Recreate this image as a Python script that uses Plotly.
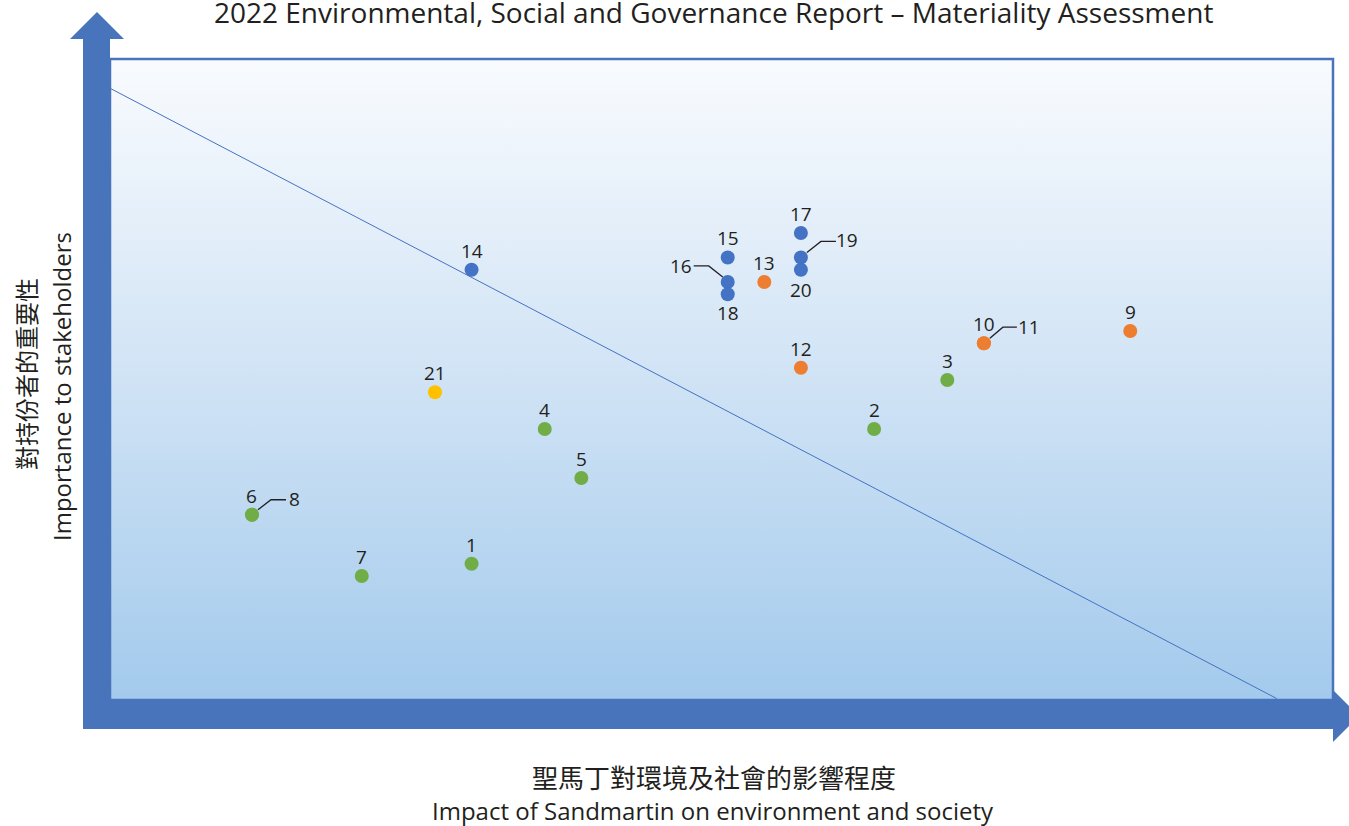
import plotly.graph_objects as go

# ---------------- data ----------------
issue_ids = ["1", "2", "3", "4", "5", "6", "7", "8", "9", "10", "11",
             "12", "13", "14", "15", "16", "17", "18", "19", "20", "21"]
impact = [10, 21, 23, 12, 13, 4, 7, 4, 28, 24, 24,
          19, 18, 10, 17, 17, 19, 17, 19, 19, 9]
importance = [11, 22, 26, 22, 18, 15, 10, 15, 30, 29, 29,
              27, 34, 35, 36, 34, 38, 33, 36, 35, 25]
category = ["env", "env", "env", "env", "env", "env", "env", "env", "emp", "emp", "emp",
            "emp", "emp", "gov", "gov", "gov", "gov", "gov", "gov", "gov", "com"]
threshold_x = [0, 32]
threshold_y = [50, 0]

title_text = "2022 Environmental, Social and Governance Report \u2013 Materiality Assessment"
x_title_zh = "聖馬丁對環境及社會的影響程度"
x_title_en = "Impact of Sandmartin on environment and society"
y_title_zh = "對持份者的重要性"
y_title_en = "Importance to stakeholders"

# ---------------- styles ----------------
colors = {"env": "#70ad47", "emp": "#ed7d31", "gov": "#4472c4", "com": "#ffc000"}
ARROW = "#4874bb"
TXT = "#231f20"
FONT = "Open Sans, Noto Sans, sans-serif"
CJK = "Noto Sans CJK TC, Noto Sans CJK SC, sans-serif"

W, H = 1349, 826
L, R, T, B = 110, 1333, 59, 700  # plot area in px
X_RANGE = [0.12, 33.54]
Y_RANGE = [-0.122, 52.2]

# label placements: (xshift, yshift) in px, plus optional leader path (px offsets from point)
label_pos = {i: (0, 19) for i in issue_ids}
label_pos["18"] = (0, -19)
label_pos["20"] = (0, -20)
label_pos["16"] = (-47, 16)
label_pos["19"] = (46, 17)
label_pos["8"] = (43, 16)
label_pos["11"] = (45, 16)
leaders = {
    "16": "M -5,5 L -19,16 L -34,16",
    "19": "M 6,5 L 20,16 L 35,16",
    "8": "M 6,5 L 19,15 L 34,15",
    "11": "M 6,5 L 19,16 L 33,16",
}


def px(x):
    return (x - L) / (R - L)


def py(y):
    return (B - y) / (B - T)


fig = go.Figure()

# gradient background
fig.add_trace(go.Scatter(
    x=[X_RANGE[0], X_RANGE[1], X_RANGE[1], X_RANGE[0], X_RANGE[0]],
    y=[Y_RANGE[0], Y_RANGE[0], Y_RANGE[1], Y_RANGE[1], Y_RANGE[0]],
    mode="lines", line=dict(width=0), fill="toself",
    fillgradient=dict(type="vertical", start=Y_RANGE[0], stop=Y_RANGE[1],
                      colorscale=[[0, "#a3caec"], [0.5, "#d0e3f5"], [1, "#f9fbfe"]]),
    hoverinfo="skip", showlegend=False))

# threshold line
fig.add_trace(go.Scatter(x=threshold_x, y=threshold_y, mode="lines",
                         line=dict(color="#4472c4", width=1),
                         hoverinfo="skip", showlegend=False))

# points
fig.add_trace(go.Scatter(
    x=impact, y=importance, mode="markers",
    marker=dict(size=14, color=[colors[c] for c in category], line=dict(width=0)),
    text=issue_ids, hoverinfo="text", showlegend=False))

annotations = []
shapes = []
for i, xv, yv in zip(issue_ids, impact, importance):
    dx, dy = label_pos[i]
    annotations.append(dict(x=xv, y=yv, xref="x", yref="y", text=i, showarrow=False,
                            xshift=dx, yshift=dy, font=dict(family=FONT, size=19, color=TXT)))
    if i in leaders:
        shapes.append(dict(type="path", xref="x", yref="y", xsizemode="pixel", ysizemode="pixel",
                           xanchor=xv, yanchor=yv, path=leaders[i],
                           line=dict(color=TXT, width=1.3), layer="above"))

# plot border
shapes.append(dict(type="rect", xref="paper", yref="paper", x0=0, x1=1, y0=0, y1=1,
                   line=dict(color="#4874bb", width=2.5), layer="above"))

# vertical arrow
shapes.append(dict(type="path", xref="paper", yref="paper", layer="above",
                   path=f"M {px(83)},{py(729)} L {px(110)},{py(729)} L {px(110)},{py(39)} "
                        f"L {px(124)},{py(39)} L {px(97)},{py(12)} L {px(70)},{py(39)} "
                        f"L {px(83)},{py(39)} Z",
                   fillcolor=ARROW, line=dict(width=0)))
# horizontal arrow
shapes.append(dict(type="path", xref="paper", yref="paper", layer="above",
                   path=f"M {px(83)},{py(700)} L {px(1333)},{py(700)} L {px(1333)},{py(690)} "
                        f"L {px(1359)},{py(716)} L {px(1333)},{py(742)} L {px(1333)},{py(729)} "
                        f"L {px(83)},{py(729)} Z",
                   fillcolor=ARROW, line=dict(width=0)))

# titles
annotations += [
    dict(x=px(713), y=py(12), xref="paper", yref="paper", text=title_text, showarrow=False,
         xanchor="center", yanchor="middle", font=dict(family=FONT, size=28, color=TXT)),
    dict(x=px(714), y=py(776), xref="paper", yref="paper", text=x_title_zh, showarrow=False,
         xanchor="center", yanchor="middle", font=dict(family=CJK, size=26, color=TXT)),
    dict(x=px(713), y=py(810), xref="paper", yref="paper", text=x_title_en, showarrow=False,
         xanchor="center", yanchor="middle", font=dict(family=FONT, size=24, color=TXT)),
    dict(x=px(25), y=py(374), xref="paper", yref="paper", text=y_title_zh, showarrow=False,
         textangle=-90, xanchor="center", yanchor="middle", font=dict(family=CJK, size=24, color=TXT)),
    dict(x=px(61), y=py(387), xref="paper", yref="paper", text=y_title_en, showarrow=False,
         textangle=-90, xanchor="center", yanchor="middle", font=dict(family=FONT, size=24, color=TXT)),
]

fig.update_layout(
    width=W, height=H,
    margin=dict(l=L, r=W - R, t=T, b=H - B, pad=0),
    paper_bgcolor="white", plot_bgcolor="white",
    xaxis=dict(range=X_RANGE, showgrid=False, zeroline=False, showticklabels=False,
               showline=False, ticks="", fixedrange=True),
    yaxis=dict(range=Y_RANGE, showgrid=False, zeroline=False, showticklabels=False,
               showline=False, ticks="", fixedrange=True),
    shapes=shapes, annotations=annotations, showlegend=False,
)

fig.write_html("out.html", config={"displayModeBar": False},
               post_script="document.body.style.margin='0';document.body.style.overflow='hidden';")
